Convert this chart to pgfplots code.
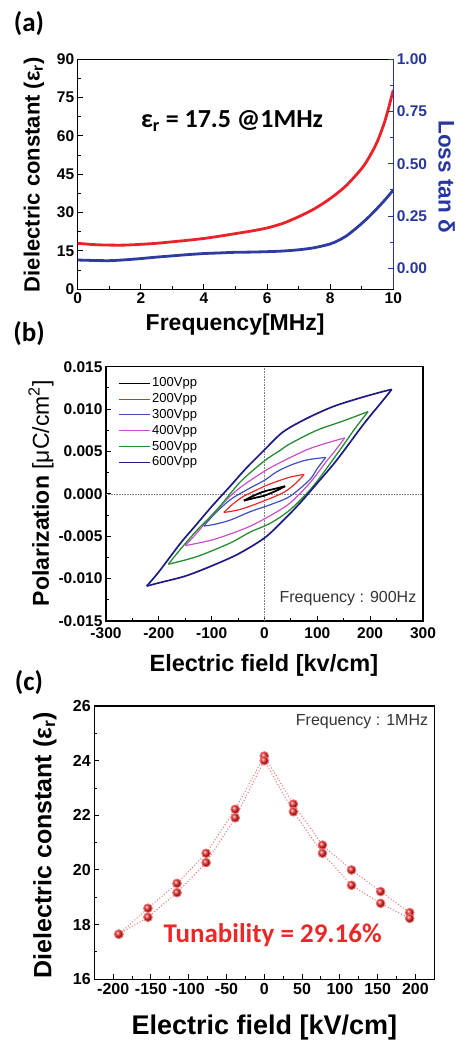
\documentclass[border=0pt]{standalone}
\usepackage{fontspec}
\setmainfont{Liberation Sans}
\newfontfamily\calibri{Carlito}
\usepackage{pgfplots}
\pgfplotsset{compat=1.18}
\usetikzlibrary{plotmarks}

\definecolor{curvered}{RGB}{235,35,40}
\definecolor{curveblue}{RGB}{45,60,160}
\definecolor{axisblue}{RGB}{40,55,160}
\definecolor{loopred}{RGB}{235,40,40}
\definecolor{loopblue}{RGB}{60,80,190}
\definecolor{loopmag}{RGB}{200,80,200}
\definecolor{loopgreen}{RGB}{40,140,50}
\definecolor{loopnavy}{RGB}{30,30,130}
\definecolor{dotred}{RGB}{242,110,110}
\definecolor{ballred}{RGB}{235,40,40}

\pgfplotsset{
  panel/.style={
    scale only axis,
    tick align=inside,
    axis line style={line width=1.3pt},
    major tick length=5pt,
    minor tick length=3pt,
    tick style={line width=1pt, black},
    /pgf/number format/assume math mode=true,
    tick label style={font=\fontsize{15.5}{16}\selectfont\bfseries},
    scaled ticks=false,
  },
}

\begin{document}
\begin{tikzpicture}
\useasboundingbox (0pt,0pt) rectangle (458pt,-1042pt);

% panel letters
\node[font=\calibri\bfseries\fontsize{27}{30}\selectfont] at (29pt,-24pt) {(a)};
\node[font=\calibri\bfseries\fontsize{27}{30}\selectfont] at (29pt,-334pt) {(b)};
\node[font=\calibri\bfseries\fontsize{27}{30}\selectfont] at (29pt,-683pt) {(c)};

% ---------------- (a) ----------------
\begin{axis}[panel, tick pos=left,
  at={(77.7pt,-289.3pt)}, anchor=south west,
  width=315.6pt, height=230pt,
  xmin=0, xmax=10, ymin=0, ymax=90,
  xtick={0,2,4,6,8,10}, ytick={0,15,30,45,60,75,90},
  minor x tick num=1, minor y tick num=1,
  xlabel={Frequency[MHz]},
  ylabel={Dielectric constant (ε\textsubscript{r})},
  every axis x label/.style={at={(axis description cs:0.499,-0.155)}, anchor=center,
    font=\fontsize{23}{26}\selectfont\bfseries},
  every axis y label/.style={at={(axis description cs:-0.1385,0.498)}, anchor=center, rotate=90,
    font=\fontsize{22}{25}\selectfont\bfseries},
]
\addplot[curvered, line width=2.8pt, smooth] coordinates {
(0,18.0) (0.5,17.5) (1,17.3) (1.5,17.3) (2,17.6) (2.5,18.0) (3,18.6) (3.5,19.2)
(4,19.9) (4.5,20.8) (5,21.8) (5.5,22.8) (6,24.0) (6.5,25.8) (7,28.4) (7.5,31.5)
(8,35.5) (8.5,40.5) (9,47.3) (9.25,52) (9.5,58) (9.75,66.5) (10,78)
};
\node[font=\calibri\bfseries\fontsize{26}{28}\selectfont] at (axis cs:4.89,65.8)
  {ε\textsubscript{r} = 17.5 @1MHz};
\end{axis}

\begin{axis}[panel,
  at={(77.7pt,-289.3pt)}, anchor=south west,
  width=315.6pt, height=230pt,
  xmin=0, xmax=10, ymin=-0.1, ymax=1.0,
  axis x line=none, axis y line*=right,
  ytick pos=right, yticklabel pos=right,
  ytick={0,0.25,0.5,0.75,1}, minor y tick num=1,
  y axis line style={axisblue, line width=1.6pt},
  ytick style={axisblue, line width=1pt},
  yticklabel style={text=axisblue, /pgf/number format/.cd, fixed, fixed zerofill, precision=2},
  ylabel={Loss tan δ},
  every axis y label/.style={at={(axis description cs:1.169,0.49)}, anchor=center, rotate=-90,
    font=\fontsize{22.5}{25}\selectfont\bfseries, text=axisblue},
]
\addplot[curveblue, line width=2.8pt, smooth] coordinates {
(0,0.040) (0.5,0.038) (1,0.037) (1.5,0.041) (2,0.047) (2.5,0.054) (3,0.060)
(3.5,0.066) (4,0.071) (4.5,0.074) (5,0.077) (5.5,0.078) (6,0.080) (6.5,0.083)
(7,0.089) (7.5,0.099) (8,0.117) (8.25,0.133) (8.5,0.154) (8.75,0.183) (9,0.215)
(9.25,0.250) (9.5,0.289) (9.75,0.330) (10,0.375)
};
\end{axis}

% ---------------- (b) ----------------
\begin{axis}[panel, tick pos=left,
  at={(106pt,-621pt)}, anchor=south west,
  width=317pt, height=254.3pt,
  axis line style={line width=1.1pt},
  xmin=-300, xmax=300, ymin=-0.015, ymax=0.015,
  xtick={-300,-200,-100,0,100,200,300},
  ytick={-0.015,-0.010,-0.005,0,0.005,0.010,0.015},
  yticklabel style={/pgf/number format/.cd, fixed, fixed zerofill, precision=3},
  xticklabel style={yshift=-3pt},
  minor x tick num=1, minor y tick num=1,
  xlabel={Electric field [kv/cm]},
  ylabel={Polarization \textmd{[μC/cm\textsuperscript{2}]}},
  every axis x label/.style={at={(axis description cs:0.498,-0.173)}, anchor=center,
    font=\fontsize{23.5}{26}\selectfont\bfseries},
  every axis y label/.style={at={(axis description cs:-0.205,0.502)}, anchor=center, rotate=90,
    font=\fontsize{23}{26}\selectfont\bfseries},
  legend style={at={(axis description cs:0.038,0.965)}, anchor=north west,
    draw=none, fill=none, inner sep=0pt, row sep=0.8pt,
    font=\fontsize{13}{15}\selectfont,
    nodes={inner ysep=1.5pt, inner xsep=2pt, text height=9.5pt, text depth=2.5pt}},
  legend image code/.code={\draw[#1, line width=1pt] (0pt,0pt) -- (31pt,0pt);},
  legend cell align=left,
]
\draw[gray, densely dotted, line width=0.6pt] (axis cs:0,-0.015) -- (axis cs:0,0.015);
\draw[gray, densely dotted, line width=0.6pt] (axis cs:-300,0) -- (axis cs:300,0);

% 100 Vpp
\addplot[black, line width=1.8pt, smooth] coordinates {
(-39,-0.0008) (-20,-0.0002) (0,0.0003) (20,0.0006) (39,0.0009)};
\addlegendentry{100Vpp}
\addplot[black, line width=1.8pt, smooth, forget plot] coordinates {
(39,0.0009) (20,0.0003) (0,-0.0002) (-20,-0.0005) (-39,-0.0008)};

% 200 Vpp
\addplot[loopred, line width=1.2pt, smooth] coordinates {
(-77,-0.0022) (-60,-0.0012) (-40,-0.0003) (-20,0.0003) (0,0.0009) (25,0.0015) (50,0.0020) (75,0.0023)};
\addlegendentry{200Vpp}
\addplot[loopred, line width=1.2pt, smooth, forget plot] coordinates {
(75,0.0023) (60,0.0013) (40,0.0003) (20,-0.0003) (0,-0.0008) (-25,-0.0014) (-50,-0.0019) (-77,-0.0022)};

% 300 Vpp
\addplot[loopblue, line width=1.2pt, smooth] coordinates {
(-115,-0.0038) (-95,-0.0024) (-65,-0.0007) (-30,0.0006) (0,0.0016) (23,0.0026) (50,0.0034) (80,0.0040) (116,0.0043)};
\addlegendentry{300Vpp}
\addplot[loopblue, line width=1.2pt, smooth, forget plot] coordinates {
(116,0.0043) (100,0.0030) (86,0.0017) (48,-0.0003) (10,-0.0013) (-27,-0.0021) (-65,-0.0031) (-95,-0.0036) (-115,-0.0038)};

% 400 Vpp
\addplot[loopmag, line width=1.2pt, smooth] coordinates {
(-150,-0.0061) (-125,-0.0044) (-97,-0.0023) (-53,0.0004) (-2,0.0026) (30,0.0037) (80,0.0052) (118,0.0060) (152,0.0066)};
\addlegendentry{400Vpp}
\addplot[loopmag, line width=1.2pt, smooth, forget plot] coordinates {
(152,0.0066) (130,0.0048) (118,0.0039) (86,0.0013) (48,-0.0011) (10,-0.0026) (-34,-0.0040) (-97,-0.0054) (-150,-0.0061)};

% 500 Vpp
\addplot[loopgreen, line width=1.3pt, smooth] coordinates {
(-182,-0.0083) (-160,-0.0066) (-128,-0.0043) (-90,-0.0019) (-46,0.0014) (0,0.0039) (29,0.0051) (48,0.0059) (99,0.0075) (149,0.0086) (196,0.0097)};
\addlegendentry{500Vpp}
\addplot[loopgreen, line width=1.3pt, smooth, forget plot] coordinates {
(196,0.0097) (170,0.0076) (143,0.0052) (92,0.0009) (48,-0.0019) (10,-0.0035) (-27,-0.0045) (-65,-0.0058) (-128,-0.0074) (-182,-0.0083)};

% 600 Vpp
\addplot[loopnavy, line width=1.7pt, smooth] coordinates {
(-223,-0.01088) (-200,-0.0092) (-160,-0.0059) (-130,-0.0037) (-100,-0.0015) (-65,0.0009) (-35,0.0030) (0,0.0052) (35,0.0073) (80,0.0089) (130,0.0103) (180,0.0113) (220,0.0120) (241,0.01233)};
\addlegendentry{600Vpp}
\addplot[loopnavy, line width=1.7pt, smooth, forget plot] coordinates {
(241,0.01233) (220,0.0107) (200,0.0092) (180,0.0076) (137,0.0040) (99,0.0012) (67,-0.0011) (36,-0.0031) (0,-0.0052) (-50,-0.0071) (-100,-0.0085) (-150,-0.0097) (-200,-0.0105) (-223,-0.01088)};

\node[font=\fontsize{16}{18}\selectfont, text=black!80] at (axis cs:158,-0.0123) {Frequency : 900Hz};
\end{axis}

% ---------------- (c) ----------------
\begin{axis}[panel, tick pos=left,
  at={(94.3pt,-979.3pt)}, anchor=south west,
  width=340pt, height=273.3pt,
  xmin=-225, xmax=225, ymin=16, ymax=26,
  xtick={-200,-150,-100,-50,0,50,100,150,200},
  ytick={16,18,20,22,24,26},
  tick label style={font=\fontsize{16}{17}\selectfont\bfseries},
  minor x tick num=1, minor y tick num=1,
  xlabel={Electric field [kV/cm]},
  ylabel={Dielectric constant (ε\textsubscript{r})},
  every axis x label/.style={at={(axis description cs:0.5,-0.178)}, anchor=center,
    font=\fontsize{27}{30}\selectfont\bfseries},
  every axis y label/.style={at={(axis description cs:-0.145,0.491)}, anchor=center, rotate=90,
    font=\fontsize{25}{28}\selectfont\bfseries},
]
\addplot[dotred, dotted, line width=1pt, mark=ball, mark size=4.3pt,
  mark options={solid, ball color=ballred}] coordinates {
(-192.5,17.65) (-154,18.60) (-115.5,19.51) (-77,20.61) (-38.5,22.22) (0,24.17)
(38.5,22.41) (77,20.91) (115.5,20.00) (154,19.21) (192.5,18.44)};
\addplot[dotred, dotted, line width=1pt, mark=ball, mark size=4.3pt,
  mark options={solid, ball color=ballred}] coordinates {
(-192.5,17.65) (-154,18.27) (-115.5,19.17) (-77,20.27) (-38.5,21.91) (0,24.00)
(38.5,22.13) (77,20.61) (115.5,19.44) (154,18.78) (192.5,18.23)};
\node[font=\fontsize{16}{18}\selectfont, text=black!80] at (axis cs:129.3,25.43) {Frequency : 1MHz};
\node[font=\calibri\bfseries\fontsize{27}{30}\selectfont, text=ballred] at (axis cs:11,17.6) {Tunability = 29.16\%};
\end{axis}
\end{tikzpicture}
\end{document}
